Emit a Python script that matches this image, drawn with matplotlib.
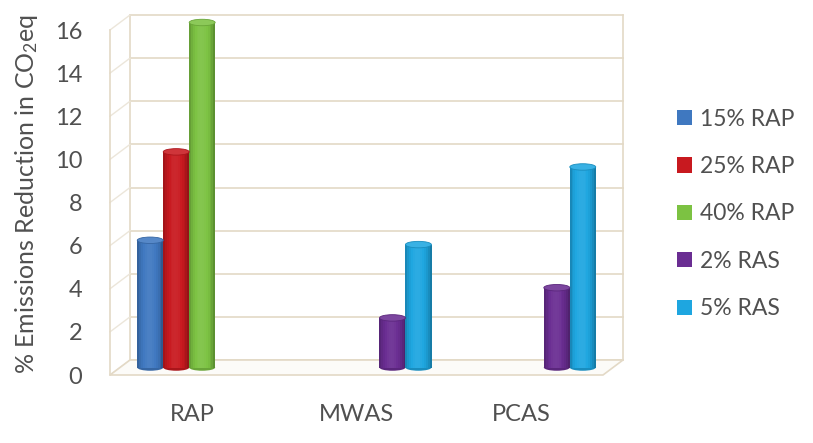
import numpy as np
import matplotlib.pyplot as plt
from matplotlib.patches import Ellipse, Polygon, Patch
from matplotlib.transforms import ScaledTranslation
from matplotlib.colors import to_rgb

plt.rcParams['font.family'] = ['Lato', 'DejaVu Sans']
plt.rcParams['mathtext.fontset'] = 'custom'
plt.rcParams['mathtext.rm'] = 'Lato'
plt.rcParams['mathtext.it'] = 'Lato'

categories = ['RAP', 'MWAS', 'PCAS']
series = ['15% RAP', '25% RAP', '40% RAP', '2% RAS', '5% RAS']
rap15 = [5.9, 0, 0]
rap25 = [10.0, 0, 0]
rap40 = [16.0, 0, 0]
ras2 = [0, 2.3, 3.7]
ras5 = [0, 5.7, 9.3]
colors = ['#3f78c0', '#c8191f', '#7cc242', '#6a2d92', '#1ea6e0']
yticks = [0, 2, 4, 6, 8, 10, 12, 14, 16]

grid_c = '#e3d9c6'
text_c = '#505050'

fig = plt.figure(figsize=(8.13, 4.43), dpi=100)
ax = fig.add_axes([110/813, 68/443, 493/813, 345/443])
ax.set_xlim(0, 3)
ax.set_ylim(0, 16)
for s in ax.spines.values():
    s.set_visible(False)

# depth offsets: back wall and middle of the box
back = ax.transData + ScaledTranslation(0.20, 0.15, fig.dpi_scale_trans)
mid = ax.transData + ScaledTranslation(0.10, 0.075, fig.dpi_scale_trans)

# back wall gridlines
for t in yticks:
    ax.plot([0, 3], [t, t], color=grid_c, lw=1.2, transform=back, clip_on=False, zorder=1)
ax.plot([0, 0], [0, 16], color=grid_c, lw=1.2, transform=back, clip_on=False, zorder=1)
ax.plot([3, 3], [0, 16], color=grid_c, lw=1.2, transform=back, clip_on=False, zorder=1)

# left wall: slanted lines from front edge to back wall
dx = 0.20 * 100 / (493 / 3)
dy = 0.15 * 100 / (345 / 16)
for t in yticks:
    ax.plot([0, dx], [t, t + dy], color='#ece6da', lw=1.0, clip_on=False, zorder=1)
ax.plot([0, 0], [0, 16], color=grid_c, lw=1.2, clip_on=False, zorder=1)

# floor
floor = Polygon([[0, 0], [3, 0], [3 + dx, dy], [dx, dy]], closed=True,
                facecolor='#fcfbf8', edgecolor=grid_c, lw=1.2, clip_on=False, zorder=1)
ax.add_patch(floor)


def shade(c, f):
    r = np.array(to_rgb(c))
    if f < 1:
        return tuple(r * f)
    return tuple(r + (1 - r) * (f - 1))


ncat = len(categories)
x = np.arange(ncat) + 0.5
w = 0.158
nstrip = 14
cap_h = 0.3
data = [rap15, rap25, rap40, ras2, ras5]
for i, (vals, c) in enumerate(zip(data, colors)):
    vals = np.array(vals)
    keep = vals > 0
    xs = x[keep] + (i - 2) * w
    vs = vals[keep]
    # rounded bottom
    for xc in xs:
        ax.add_patch(Ellipse((xc, 0), w, cap_h, facecolor=shade(c, 0.85),
                             edgecolor='none', transform=mid, clip_on=False, zorder=3))
    # cylinder body, shaded across its width
    for k in range(nstrip):
        u = (k + 0.5) / nstrip
        f = 0.72 + 0.38 * np.sin(np.pi * u) ** 0.6 - 0.08 * u
        ax.bar(xs - w / 2 + k * w / nstrip, vs, width=w / nstrip * 1.05, align='edge',
               color=shade(c, f), lw=0, transform=mid, clip_on=False, zorder=4)
    # top cap
    for xc, v in zip(xs, vs):
        ax.add_patch(Ellipse((xc, v), w, cap_h, facecolor=shade(c, 1.12),
                             edgecolor=shade(c, 0.85), lw=0.6, transform=mid,
                             clip_on=False, zorder=5))

ax.set_yticks(yticks)
ax.set_yticklabels([str(t) for t in yticks])
ax.set_xticks(x)
ax.set_xticklabels(categories)
ax.tick_params(axis='y', length=0, pad=20, labelsize=17, labelcolor=text_c)
ax.tick_params(axis='x', length=0, pad=21, labelsize=17, labelcolor=text_c)

fig.text(27/813, 1 - 194/443, '% Emissions Reduction in CO$_2$eq', rotation=90,
         ha='center', va='center', fontsize=18, color=text_c)

handles = [Patch(facecolor=c, edgecolor='none') for c in colors]
fig.legend(handles, series, loc='center left', bbox_to_anchor=(656/813, 1 - 214/443),
           frameon=False, fontsize=16.5, labelcolor=text_c, handlelength=0.65,
           handleheight=0.65, handletextpad=0.35, labelspacing=1.15)

fig.savefig('out.png', dpi=100, facecolor='white')
